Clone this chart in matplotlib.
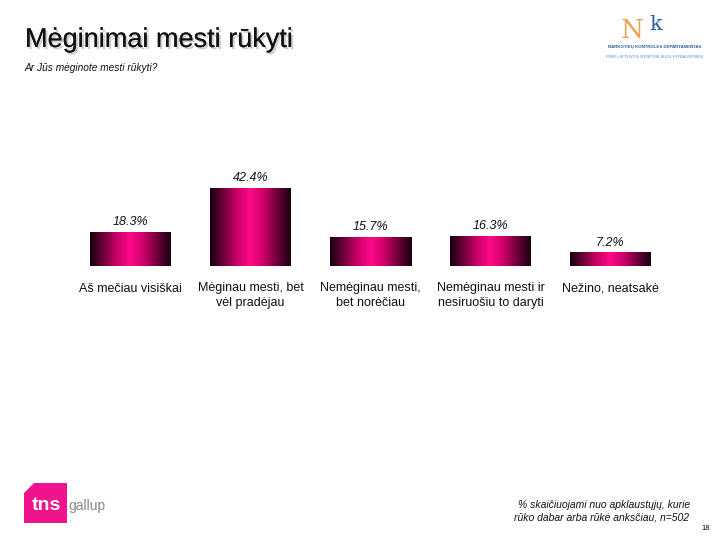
import matplotlib.pyplot as plt
import matplotlib.patheffects as pe
import numpy as np
from matplotlib.patches import Polygon
from matplotlib.colors import LinearSegmentedColormap

plt.rcParams['font.family'] = ['Liberation Sans', 'DejaVu Sans']

# data
categories = ['Aš mečiau visiškai', 'Mėginau mesti, bet\nvėl pradėjau',
              'Nemėginau mesti,\nbet norėčiau', 'Nemėginau mesti ir\nnesiruošiu to daryti',
              'Nežino, neatsakė']
values = [18.3, 42.4, 15.7, 16.3, 7.2]
value_labels = ['18.3%', '42.4%', '15.7%', '16.3%', '7.2%']

fig = plt.figure(figsize=(7.2, 5.4), dpi=100)
W, H = 720, 540

# bar axes, placed in pixel terms
ax = fig.add_axes([70.5 / W, 1 - 266 / H, 600 / W, 110 / H])
ax.axis('off')

# horizontal gradient: dark edges, hot pink centre
cmap = LinearSegmentedColormap.from_list('pinkbar', ['#1a000e', '#6e003a', '#cc0068', '#ff0a8c',
                                                     '#cc0068', '#6e003a', '#1a000e'])
grad = np.linspace(0, 1, 256).reshape(1, -1)
bw = 0.675
bars = ax.bar(range(len(values)), values, width=bw, color='none', edgecolor='none')
for i, (b, v) in enumerate(zip(bars, values)):
    x0 = b.get_x()
    ax.imshow(grad, cmap=cmap, aspect='auto', extent=(x0, x0 + bw, 0, v),
              interpolation='bilinear', zorder=2)
    ax.text(i, v + 5.5, value_labels[i], ha='center', va='center', fontsize=9,
            style='italic', color='#111111')
    ax.text(i, -9, categories[i], ha='center', va='top', fontsize=9,
            color='#111111', linespacing=1.25)
ax.set_xlim(-0.5, 4.5)
ax.set_ylim(0, 60)

# title and subtitle
fig.text(25 / W, 1 - 40 / H, 'Mėginimai mesti rūkyti', fontsize=19.5, va='center', ha='left',
         color='#111111',
         path_effects=[pe.withSimplePatchShadow(offset=(1.5, -1.5), shadow_rgbFace='#cccccc', alpha=1),
                       pe.Normal()])
fig.text(25 / W, 1 - 68 / H, 'Ar Jūs mėginote mesti rūkyti?', fontsize=7.3, style='italic',
         va='center', ha='left', color='#111111')

# NKD logo (approximation)
fig.text(632 / W, 1 - 30 / H, 'N', fontsize=19, color='#f0a050', ha='center', va='center',
         family='DejaVu Serif')
fig.text(656 / W, 1 - 24 / H, 'k', fontsize=15, color='#2a5ea8', ha='center', va='center',
         family='DejaVu Serif')
fig.text(655 / W, 1 - 47 / H, 'NARKOTIKŲ KONTROLĖS DEPARTAMENTAS', fontsize=3.2, color='#2a5ea8',
         ha='center', va='center', weight='bold')
fig.text(655 / W, 1 - 57 / H, 'PRIE LIETUVOS RESPUBLIKOS VYRIAUSYBĖS', fontsize=3.2, color='#5a8ad0',
         ha='center', va='center')

# TNS gallup logo (approximation)
logo = Polygon([(34 / W, 1 - 483 / H), (67 / W, 1 - 483 / H), (67 / W, 1 - 523 / H),
                (24 / W, 1 - 523 / H), (24 / W, 1 - 493 / H)],
               closed=True, transform=fig.transFigure, facecolor='#f0148c', edgecolor='none')
fig.patches.append(logo)
fig.text(46 / W, 1 - 505 / H, 'tns', fontsize=14, weight='bold', color='white',
         ha='center', va='center')
fig.text(68 / W, 1 - 506 / H, 'gallup', fontsize=10, color='#888888', ha='left', va='center')

# footnote and page number
fig.text(690 / W, 1 - 505 / H, '% skaičiuojami nuo apklaustųjų, kurie', fontsize=7.5,
         style='italic', ha='right', va='center', color='#111111')
fig.text(689 / W, 1 - 517 / H, 'rūko dabar arba rūkė anksčiau, n=502', fontsize=7.5,
         style='italic', ha='right', va='center', color='#111111')
fig.text(710 / W, 1 - 529 / H, '18', fontsize=5.5, ha='right', va='center', color='#111111')

plt.savefig('out.png', dpi=100)
